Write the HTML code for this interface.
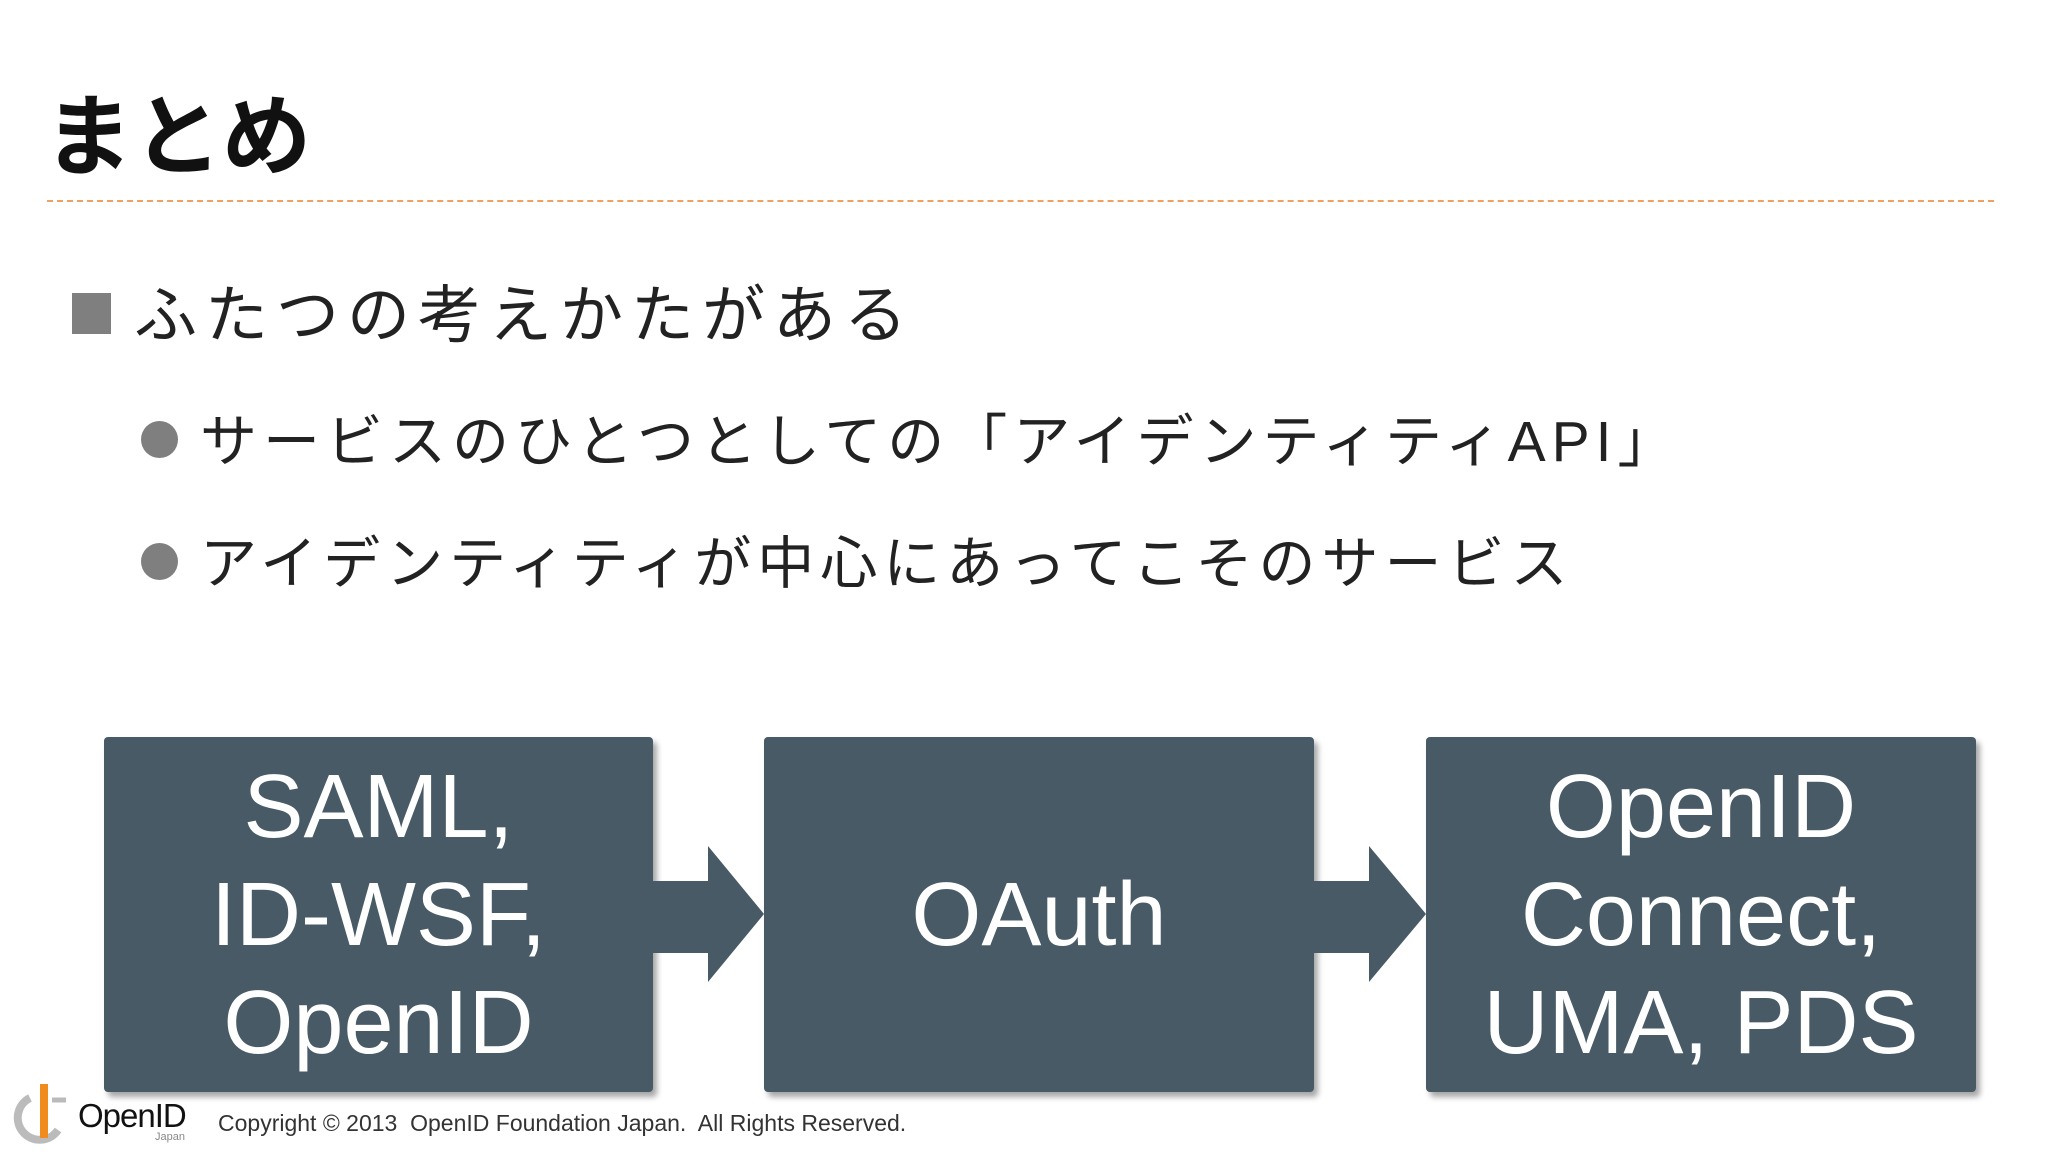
<!DOCTYPE html>
<html><head><meta charset="utf-8"><style>
body{margin:0;width:2048px;height:1152px;background:#fff;position:relative;overflow:hidden;font-family:"Liberation Sans","Noto Sans CJK JP",sans-serif;color:#222}
.a{position:absolute;white-space:nowrap}
.box{position:absolute;top:737px;height:355px;background:#475a66;border-radius:4px;box-shadow:4px 5px 6px rgba(0,0,0,.35);color:#fff;display:flex;align-items:center;justify-content:center;text-align:center;font-size:90px;line-height:108px}
</style></head><body>
<div class="a" style="left:44px;top:82px;font-size:89px;font-weight:bold;line-height:110px;color:#111">まとめ</div>
<div class="a" style="left:47px;top:200px;width:1947px;border-top:2px dashed #f0a060"></div>
<div class="a" style="left:72px;top:293px;width:39px;height:41px;background:#7f7f7f"></div>
<div class="a" style="left:134px;top:276px;font-size:63px;line-height:80px;letter-spacing:8px">ふたつの考えかたがある</div>
<div class="a" style="left:141px;top:421px;width:37px;height:37px;border-radius:50%;background:#7f7f7f"></div>
<div class="a" style="left:200px;top:406px;font-size:57px;line-height:72px;letter-spacing:6px">サービスのひとつとしての「アイデンティティAPI」</div>
<div class="a" style="left:141px;top:543px;width:37px;height:37px;border-radius:50%;background:#7f7f7f"></div>
<div class="a" style="left:200px;top:528px;font-size:57px;line-height:72px;letter-spacing:6px">アイデンティティが中心にあってこそのサービス</div>
<div class="box" style="left:104px;width:549px">SAML,<br>ID-WSF,<br>OpenID</div>
<div class="box" style="left:764px;width:550px">OAuth</div>
<div class="box" style="left:1426px;width:550px">OpenID<br>Connect,<br>UMA, PDS</div>
<svg class="a" style="left:0;top:0" width="2048" height="1152">
<polygon points="653,881 708,881 708,846 764,914 708,982 708,953 653,953" fill="#475a66"/>
<polygon points="1314,881 1369,881 1369,846 1426,914 1369,982 1369,953 1314,953" fill="#475a66"/>
<path d="M30,1098 A22,22 0 1 0 58,1130" stroke="#bbb" stroke-width="8" fill="none"/>
<rect x="40" y="1084" width="8" height="54" fill="#f08c1e"/>
<path d="M52,1100 L66,1100" stroke="#bbb" stroke-width="5"/>
</svg>
<div class="a" style="left:78px;top:1098px;font-size:33px;line-height:36px;color:#111;letter-spacing:-1px">OpenID</div>
<div class="a" style="left:155px;top:1131px;font-size:11px;color:#888">Japan</div>
<div class="a" style="left:218px;top:1109px;font-size:23px;line-height:28px;color:#333">Copyright © 2013&nbsp; OpenID Foundation Japan.&nbsp; All Rights Reserved.</div>
</body></html>
